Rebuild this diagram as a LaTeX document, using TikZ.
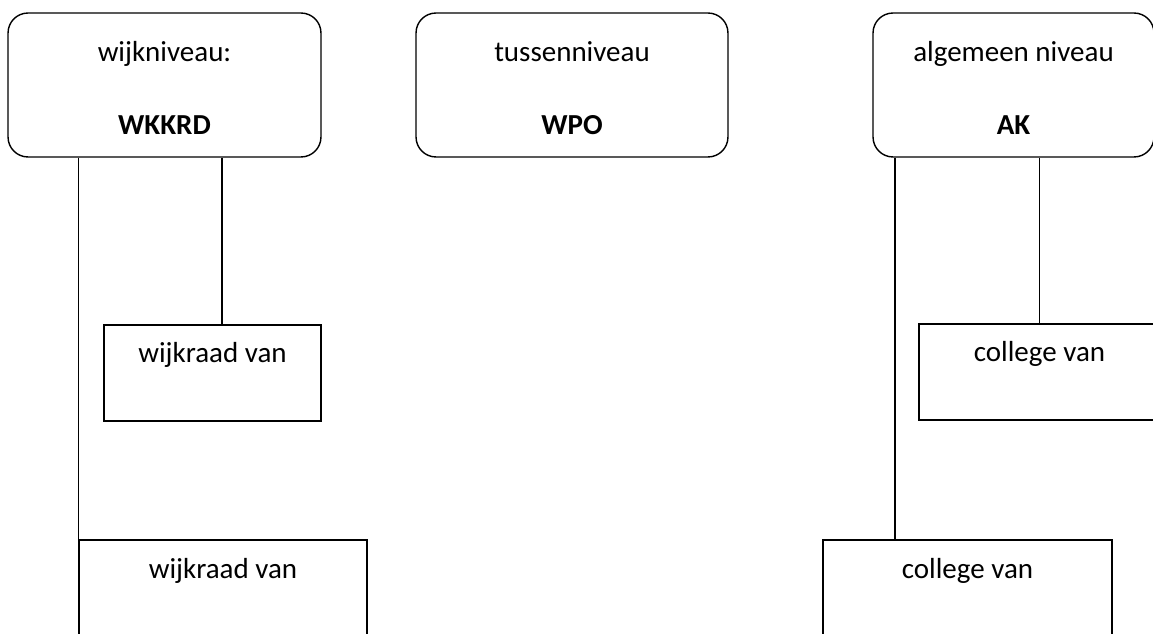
\documentclass[tikz,border=0pt]{standalone}
\usepackage{fontspec}
\setmainfont{Carlito}
\usetikzlibrary{calc}

\begin{document}
\begin{tikzpicture}[x=0.02cm, y=-0.02cm,
    levelbox/.style={draw, rounded corners=0.4cm, line width=0.8pt, minimum height=2.88cm, inner sep=0pt},
    unitbox/.style={draw, rectangle, line width=0.8pt, minimum height=1.92cm, inner sep=0pt},
    boxtext/.style={anchor=base, inner sep=0pt, font=\fontsize{16.5}{20}\selectfont},
    boldtext/.style={boxtext, font=\fontsize{16.5}{20}\selectfont\bfseries}]

    % Fix the page size
    \useasboundingbox (0,0) rectangle (1153,634);

    % Draw the three level boxes
    \node[levelbox, minimum width=6.26cm] (wkkrd) at (164.5,85) {};
    \node[levelbox, minimum width=6.24cm] (wpo) at (572,85) {};
    \node[levelbox, minimum width=5.62cm] (ak) at (1013.5,85) {};

    % Texts of the level boxes
    \node[boxtext] (wkkrd-title) at ($(wkkrd.north)+(0,49)$) {wijkniveau:};
    \node[boldtext] (wkkrd-name) at ($(wkkrd.north)+(0,122)$) {WKKRD};
    \node[boxtext] (wpo-title) at ($(wpo.north)+(0,49)$) {tussenniveau};
    \node[boldtext] (wpo-name) at ($(wpo.north)+(0,122)$) {WPO};
    \node[boxtext] (ak-title) at ($(ak.north)+(0,49)$) {algemeen niveau};
    \node[boldtext] (ak-name) at ($(ak.north)+(0,122)$) {AK};

    % Draw the unit boxes
    \node[unitbox, minimum width=4.34cm] (wijk1) at (212.5,373) {};
    \node[unitbox, minimum width=5.76cm] (wijk2) at (223,588) {};
    \node[unitbox, minimum width=4.82cm] (coll1) at (1039.5,372) {};
    \node[unitbox, minimum width=5.78cm] (coll2) at (967.5,588) {};

    % Texts of the unit boxes
    \node[boxtext] (wijk1-text) at ($(wijk1.north)+(0,38)$) {wijkraad van};
    \node[boxtext] (wijk2-text) at ($(wijk2.north)+(0,39)$) {wijkraad van};
    \node[boxtext] (coll1-text) at ($(coll1.north)+(0,38)$) {college van};
    \node[boxtext] (coll2-text) at ($(coll2.north)+(0,39)$) {college van};

    % Drop points of the connectors
    \coordinate (wkdrop) at (222,0);
    \coordinate (akdrop) at (895,0);

    % Draw the connectors
    \draw[line width=0.8pt] (wijk2.north west |- wkkrd.south) -- (wijk2.north west);
    \draw[line width=0.8pt] (wkdrop |- wkkrd.south) -- (wkdrop |- wijk1.north);
    \draw[line width=0.8pt] (akdrop |- ak.south) -- (akdrop |- coll2.north);
    \draw[line width=0.8pt] (coll1.north |- ak.south) -- (coll1.north);

\end{tikzpicture}
\end{document}
